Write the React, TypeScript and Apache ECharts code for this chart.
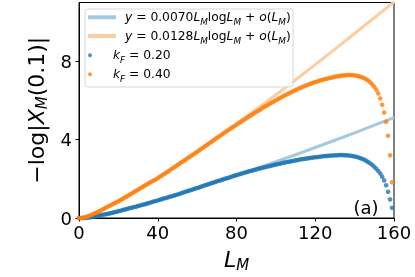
import React, { useEffect, useRef } from "react";
import * as echarts from "echarts";

const FONT = "DejaVu Sans";

// -log|X_M(0.1)| for k_F = 0.20, at L_M = 0, 1, 2, ... 159
const K020_VALUES = [
  0.00, 0.00, 0.00, 0.00, 0.01, 0.03, 0.04, 0.06, 0.08, 0.10,
  0.12, 0.14, 0.16, 0.18, 0.20, 0.22, 0.24, 0.27, 0.29, 0.32,
  0.35, 0.37, 0.40, 0.43, 0.45, 0.48, 0.51, 0.53, 0.56, 0.58,
  0.61, 0.64, 0.67, 0.69, 0.72, 0.75, 0.78, 0.81, 0.84, 0.87,
  0.90, 0.93, 0.96, 0.99, 1.02, 1.05, 1.08, 1.11, 1.14, 1.17,
  1.20, 1.23, 1.27, 1.30, 1.34, 1.37, 1.40, 1.43, 1.47, 1.50,
  1.53, 1.56, 1.60, 1.63, 1.67, 1.70, 1.73, 1.77, 1.80, 1.84,
  1.87, 1.90, 1.93, 1.97, 2.00, 2.03, 2.06, 2.09, 2.13, 2.16,
  2.19, 2.22, 2.25, 2.28, 2.31, 2.34, 2.37, 2.40, 2.42, 2.45,
  2.48, 2.51, 2.53, 2.56, 2.58, 2.61, 2.63, 2.66, 2.68, 2.71,
  2.73, 2.75, 2.77, 2.80, 2.82, 2.84, 2.86, 2.88, 2.90, 2.92,
  2.94, 2.96, 2.98, 3.00, 3.01, 3.03, 3.04, 3.06, 3.07, 3.09,
  3.10, 3.11, 3.12, 3.14, 3.15, 3.16, 3.17, 3.18, 3.19, 3.19,
  3.20, 3.20, 3.21, 3.21, 3.21, 3.20, 3.20, 3.19, 3.18, 3.16,
  3.14, 3.12, 3.09, 3.05, 3.01, 2.97, 2.91, 2.85, 2.78, 2.70,
  2.61, 2.51, 2.40, 2.27, 2.11, 1.92, 1.67, 1.34, 0.95, 0.52,
];

// -log|X_M(0.1)| for k_F = 0.40, at L_M = 0, 1, 2, ... 159
const K040_VALUES = [
  0.00, 0.00, 0.01, 0.03, 0.06, 0.10, 0.14, 0.19, 0.24, 0.28,
  0.33, 0.38, 0.44, 0.49, 0.55, 0.60, 0.65, 0.70, 0.75, 0.80,
  0.85, 0.91, 0.97, 1.03, 1.09, 1.15, 1.21, 1.27, 1.33, 1.39,
  1.45, 1.51, 1.57, 1.63, 1.69, 1.75, 1.81, 1.86, 1.92, 1.97,
  2.03, 2.10, 2.16, 2.23, 2.29, 2.36, 2.43, 2.50, 2.56, 2.63,
  2.70, 2.77, 2.84, 2.90, 2.97, 3.04, 3.11, 3.18, 3.24, 3.31,
  3.38, 3.45, 3.52, 3.59, 3.66, 3.73, 3.80, 3.87, 3.94, 4.01,
  4.08, 4.15, 4.22, 4.29, 4.36, 4.43, 4.50, 4.56, 4.63, 4.69,
  4.76, 4.83, 4.89, 4.96, 5.02, 5.09, 5.15, 5.22, 5.28, 5.35,
  5.41, 5.47, 5.53, 5.60, 5.66, 5.72, 5.78, 5.84, 5.89, 5.95,
  6.01, 6.06, 6.12, 6.17, 6.23, 6.28, 6.33, 6.38, 6.43, 6.48,
  6.53, 6.57, 6.62, 6.66, 6.71, 6.75, 6.79, 6.83, 6.87, 6.90,
  6.94, 6.97, 7.00, 7.03, 7.06, 7.09, 7.11, 7.14, 7.16, 7.19,
  7.21, 7.23, 7.24, 7.26, 7.27, 7.28, 7.29, 7.30, 7.30, 7.29,
  7.28, 7.26, 7.24, 7.21, 7.17, 7.13, 7.07, 7.00, 6.92, 6.82,
  6.70, 6.55, 6.36, 6.10, 5.78, 5.38, 4.91, 4.20, 3.20, 1.83,
];

// Fit lines
const FIT_L = [1, 10, 20, 30, 40, 50, 60, 70, 80, 90, 100, 110, 120, 130, 140, 150, 160];
const FIT_020 = [0.0, 0.13, 0.35, 0.61, 0.89, 1.19, 1.51, 1.84, 2.17, 2.52, 2.87, 3.23, 3.6, 3.97, 4.35, 4.74, 5.12];
const FIT_040 = [0.0, 0.33, 0.85, 1.43, 2.05, 2.7, 3.38, 4.09, 4.81, 5.54, 6.29, 7.06, 7.83, 8.62, 9.42, 10.22, 11.03];

const X_TICKS = [0, 40, 80, 120, 160];
const Y_TICKS = [0, 4, 8];

const NAMES = {
  fit020: "y = 0.0070 L_M log L_M + o(L_M)",
  fit040: "y = 0.0128 L_M log L_M + o(L_M)",
  k020: "k_F = 0.20",
  k040: "k_F = 0.40",
};

const LEGEND_RICH_TEXT: Record<string, string> = {
  [NAMES.fit020]: "{i|y}{n| = 0.0070}{i|L}{s|M}{n|log}{i|L}{s|M}{n| + }{i|o}{n|(}{i|L}{s|M}{n|)}",
  [NAMES.fit040]: "{i|y}{n| = 0.0128}{i|L}{s|M}{n|log}{i|L}{s|M}{n| + }{i|o}{n|(}{i|L}{s|M}{n|)}",
  [NAMES.k020]: "{i|k}{s|F}{n| = 0.20}",
  [NAMES.k040]: "{i|k}{s|F}{n| = 0.40}",
};

const BLUE = "#1f77b4";
const ORANGE = "#ff7f0e";
const LIGHT_BLUE = "#a5c9e1";
const LIGHT_ORANGE = "#ffcc9f";

export default function App() {
  const ref = useRef<HTMLDivElement>(null);

  useEffect(() => {
    const chart = echarts.init(ref.current!, null, { renderer: "svg" });
    const pts = (vals: number[]) => vals.map((v, i) => [i, v]);
    const fitPts = (vals: number[]) => vals.map((v, i) => [FIT_L[i], v]);

    const legendRich = {
      n: { fontFamily: FONT, fontSize: 12.3, color: "#000", lineHeight: 18 },
      i: { fontFamily: FONT, fontSize: 12.3, fontStyle: "italic", color: "#000", lineHeight: 18 },
      s: { fontFamily: FONT, fontSize: 8.8, fontStyle: "italic", color: "#000", verticalAlign: "bottom", lineHeight: 14 },
    };
    const axisRich = {
      n: { fontFamily: FONT, fontSize: 22, color: "#000", lineHeight: 26 },
      i: { fontFamily: FONT, fontSize: 22, fontStyle: "italic", color: "#000", lineHeight: 26 },
      s: { fontFamily: FONT, fontSize: 15, fontStyle: "italic", color: "#000", verticalAlign: "bottom", lineHeight: 18 },
    };

    const legendRows = [
      { name: NAMES.fit020, icon: "rect", center: 20.3 },
      { name: NAMES.fit040, icon: "rect", center: 39 },
      { name: NAMES.k020, icon: "circle", center: 58.2 },
      { name: NAMES.k040, icon: "circle", center: 77.3 },
    ];

    chart.setOption({
      animation: false,
      grid: {
        left: 79,
        right: 21,
        top: 2.5,
        bottom: 56,
        show: true,
        borderColor: "#000",
        borderWidth: 1,
        backgroundColor: "transparent",
      },
      xAxis: {
        type: "value",
        min: X_TICKS[0],
        max: X_TICKS[X_TICKS.length - 1],
        interval: 40,
        name: "{i|L}{s|M}",
        nameLocation: "middle",
        nameGap: 28,
        nameTextStyle: { rich: axisRich },
        axisLine: { show: true, onZero: false, lineStyle: { color: "#000", width: 1 } },
        axisTick: { show: true, inside: false, length: 3.5, lineStyle: { color: "#000", width: 1 } },
        axisLabel: { fontFamily: FONT, fontSize: 18, color: "#000", margin: 5 },
        splitLine: { show: false },
      },
      yAxis: {
        type: "value",
        min: 0,
        max: 11,
        interval: 4,
        name: "{n|−log|}{i|X}{s|M}{n|(0.1)|}",
        nameLocation: "middle",
        nameRotate: 90,
        nameGap: 21,
        nameTextStyle: { rich: axisRich },
        axisLine: { show: true, onZero: false, lineStyle: { color: "#000", width: 1 } },
        axisTick: { show: true, inside: false, length: 3.5, customValues: Y_TICKS, lineStyle: { color: "#000", width: 1 } },
        axisLabel: { fontFamily: FONT, fontSize: 18, color: "#000", margin: 7, customValues: Y_TICKS },
        splitLine: { show: false },
      },
      legend: legendRows.map((row) => ({
        orient: "vertical",
        left: 88,
        top: row.center - 9,
        itemWidth: 28,
        itemHeight: 4,
        padding: 0,
        z: 5,
        data: [{ name: row.name, icon: row.icon }],
        formatter: (name: string) => LEGEND_RICH_TEXT[name] ?? name,
        textStyle: { padding: [0, 0, 0, 4], rich: legendRich },
      })),
      graphic: {
        elements: [
          {
            type: "rect",
            z: 3,
            shape: { x: 85, y: 9, width: 208, height: 78, r: 3 },
            style: { fill: "rgba(255,255,255,0.8)", stroke: "#d6d6d6", lineWidth: 1 },
          },
          {
            type: "text",
            z: 5,
            x: 366,
            y: 207,
            style: {
              text: "(a)",
              fontFamily: FONT,
              fontSize: 18,
              fill: "#000",
              align: "center",
              verticalAlign: "middle",
            },
          },
        ],
      },
      series: [
        {
          name: NAMES.fit020,
          type: "line",
          data: fitPts(FIT_020),
          showSymbol: false,
          lineStyle: { color: LIGHT_BLUE, width: 3 },
          itemStyle: { color: LIGHT_BLUE },
          z: 1,
        },
        {
          name: NAMES.fit040,
          type: "line",
          data: fitPts(FIT_040),
          showSymbol: false,
          lineStyle: { color: LIGHT_ORANGE, width: 3 },
          itemStyle: { color: LIGHT_ORANGE },
          z: 1,
        },
        {
          name: NAMES.k020,
          type: "scatter",
          data: pts(K020_VALUES),
          symbolSize: 4.6,
          itemStyle: { color: BLUE },
          z: 2,
        },
        {
          name: NAMES.k040,
          type: "scatter",
          data: pts(K040_VALUES),
          symbolSize: 4.6,
          itemStyle: { color: ORANGE },
          z: 2,
        },
      ],
    });
    return () => chart.dispose();
  }, []);

  return (
    <div
      ref={ref}
      style={{ position: "fixed", left: 0, top: 0, width: 415, height: 277 }}
    />
  );
}
